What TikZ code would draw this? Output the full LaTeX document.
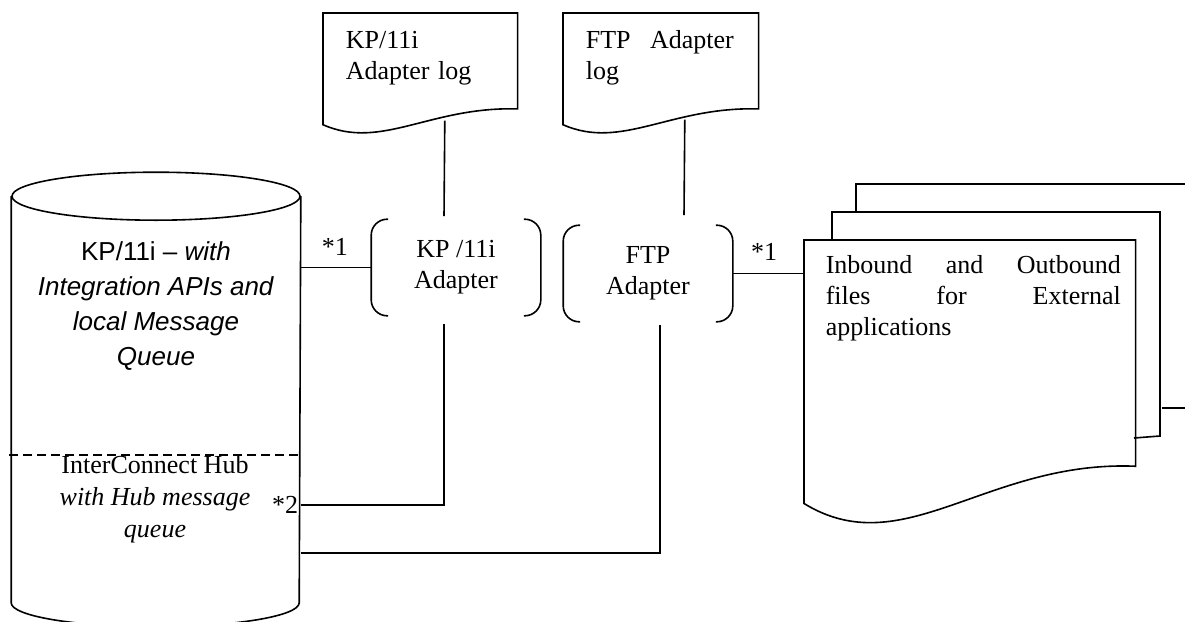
\documentclass[tikz,border=0pt]{standalone}
\usepackage{fontspec}
\setmainfont{Liberation Serif}
\newfontfamily\arialfont{Liberation Sans}
\usetikzlibrary{calc}
\tikzset{
	body/.style={inner sep=0pt, font=\fontsize{26}{31}\selectfont},
	doctext/.style={body, anchor=north west, align=left},
	adapter/.style={body, minimum width=168pt, minimum height=95pt, align=center},
	% empty frames, the outline is drawn by a macro
	logdoc/.style={anchor=north west, inner sep=0pt, minimum width=193pt, minimum height=118pt},
	store/.style={inner sep=0pt, minimum width=288pt, minimum height=405pt},
}
% point inside a node, given as fractions of its width and height
\newcommand{\docpt}[3]{($($(#1.north west)!#2!(#1.north east)$)!#3!($(#1.south west)!#2!(#1.south east)$)$)}
% page with a wavy lower edge
\newcommand{\docframe}[1]{%
	\draw (#1.north west) -- (#1.north east) -- \docpt{#1}{1}{0.802}
		.. controls \docpt{#1}{0.55}{0.78} and \docpt{#1}{0.3}{1.15}
		.. \docpt{#1}{0}{0.934} -- cycle;}
% round brackets left and right of a node
\newcommand{\bracketpair}[1]{%
	\draw[rounded corners=16pt] ([xshift=17pt]#1.north west) -- (#1.north west)
		-- (#1.south west) -- ([xshift=17pt]#1.south west);
	\draw[rounded corners=16pt] ([xshift=-17pt]#1.north east) -- (#1.north east)
		-- (#1.south east) -- ([xshift=-17pt]#1.south east);}

\begin{document}
\begin{tikzpicture}[x=1pt, y=1pt, line width=1.6pt]
	\useasboundingbox (0,0) rectangle (1185,-621);
	
	% database
	\node (db) [store] at (156,-399.5) {};
	\draw (db.north west) -- (db.south west)
		arc[start angle=180, end angle=360, x radius=144pt, y radius=24pt] -- (db.north east);
	\draw (db.north) ellipse [x radius=144pt, y radius=24pt];
	\draw[dash pattern=on 9pt off 5pt] ([shift={(-2pt,-55.5pt)}]db.west) -- ([yshift=-55.5pt]db.east);
	\node (dbtxt) [body, anchor=north, align=center, font=\arialfont\fontsize{26}{35}\selectfont] at (156,-241)
		{KP/11i – \textit{with}\\\textit{Integration APIs and}\\\textit{local Message}\\\textit{Queue}};
	\node (hub) [body, anchor=north, align=center, font=\fontsize{26}{32}\selectfont] at (155,-455)
		{InterConnect Hub\\\textit{with Hub message}\\\textit{queue}};
	\node (s2) [body, anchor=base east] at (299,-513) {*2};
	
	% adapters
	\node (kpa) [adapter] at (456,-267.5) {KP /11i\\Adapter};
	\node (ftpa) [adapter] at (648,-273.5) {FTP\\Adapter};
	\bracketpair{kpa}
	\bracketpair{ftpa}
	
	% logs
	\node (kplog) [logdoc] at (323,-13) {};
	\node (ftplog) [logdoc, minimum width=194pt] at (563,-13) {};
	\docframe{kplog}
	\docframe{ftplog}
	\node (kplogtxt) [doctext, text width=150pt] at ([shift={(22pt,-17pt)}]kplog.north west) {KP/11i\\Adapter log};
	\node (ftplogtxt) [doctext, text width=148pt] at ([shift={(22pt,-17pt)}]ftplog.north west) {FTP\hfill Adapter\\log};
	
	% files for external applications
	\node (files) [logdoc, minimum width=330pt, minimum height=280.5pt] at (804,-240) {};
	\draw ([xshift=52pt]files.north west) ++(0,28pt) -- ++(0,28pt) -- ++(340pt,0);
	\draw ([shift={(26pt,-168pt)}]files.north east) -- ++(40pt,0);
	\draw ([xshift=28pt]files.north west) -- ++(0,28pt) -- ++(328pt,0) -- ++(0,-224pt) -- ++(-26pt,-2pt);
	\docframe{files}
	\node (filestxt) [doctext, text width=295pt] at ([shift={(21pt,-15pt)}]files.north west)
		{Inbound\hfill and\hfill Outbound\\files\hfill for\hfill External\\applications};
	
	% connections
	\node (s1a) [body, anchor=base west] at (321,-255) {*1};
	\node (s1b) [body, anchor=base east] at (778,-260) {*1};
	\draw (kpa.west) -- (kpa.west -| db.east);
	\draw (ftpa.east) -- (ftpa.east -| files.west);
	\draw ([shift={(24.5pt,12pt)}]kplog.south) -- ([shift={(-12pt,3pt)}]kpa.north);
	\draw ([shift={(24pt,13pt)}]ftplog.south) -- ([shift={(36pt,10pt)}]ftpa.north);
	\draw ([yshift=-105.5pt]db.east) -| ([shift={(-12pt,-8pt)}]kpa.south);
	\draw ([yshift=-153.5pt]db.east) -| ([shift={(12pt,-3pt)}]ftpa.south);
\end{tikzpicture}
\end{document}
